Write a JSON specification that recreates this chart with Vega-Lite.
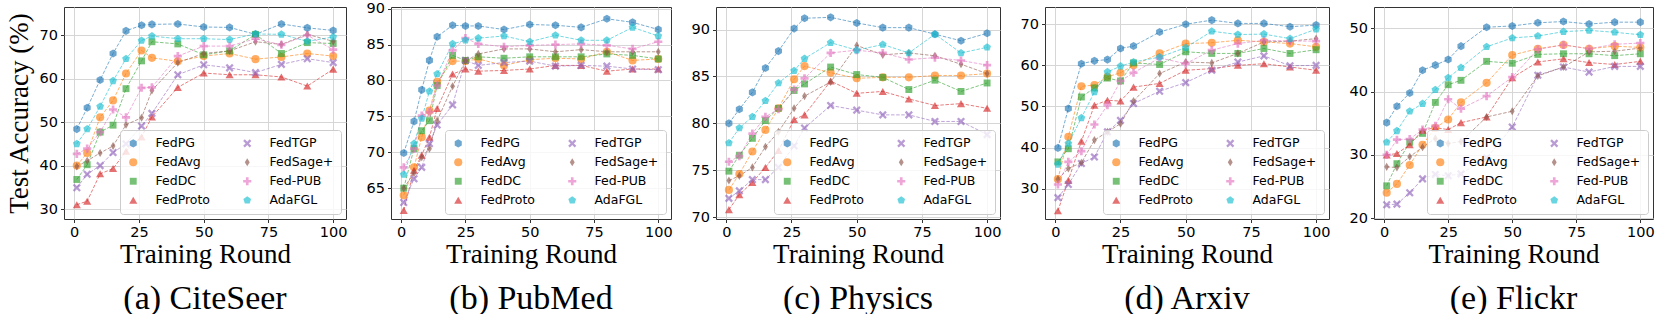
{
"$schema": "https://vega.github.io/schema/vega-lite/v6.json",
"padding": {"left": 4, "top": 0, "right": 0, "bottom": 0},
"background": "white",
"datasets": {
"citeseer": [
{"r":1,"m":"FedPG","v":48.4},{"r":5,"m":"FedPG","v":53.3},{"r":10,"m":"FedPG","v":59.7},{"r":15,"m":"FedPG","v":65.8},{"r":20,"m":"FedPG","v":71.0},{"r":26,"m":"FedPG","v":72.3},{"r":30,"m":"FedPG","v":72.5},{"r":40,"m":"FedPG","v":72.6},{"r":50,"m":"FedPG","v":71.9},{"r":60,"m":"FedPG","v":71.8},{"r":70,"m":"FedPG","v":70.2},{"r":80,"m":"FedPG","v":72.6},{"r":90,"m":"FedPG","v":71.7},{"r":100,"m":"FedPG","v":71.1},
{"r":1,"m":"FedAvg","v":40.0},{"r":5,"m":"FedAvg","v":42.9},{"r":10,"m":"FedAvg","v":51.1},{"r":15,"m":"FedAvg","v":55.0},{"r":20,"m":"FedAvg","v":61.2},{"r":26,"m":"FedAvg","v":66.5},{"r":30,"m":"FedAvg","v":64.8},{"r":40,"m":"FedAvg","v":64.0},{"r":50,"m":"FedAvg","v":65.2},{"r":60,"m":"FedAvg","v":65.8},{"r":70,"m":"FedAvg","v":64.5},{"r":80,"m":"FedAvg","v":65.0},{"r":90,"m":"FedAvg","v":65.8},{"r":100,"m":"FedAvg","v":65.2},
{"r":1,"m":"FedDC","v":36.8},{"r":5,"m":"FedDC","v":40.2},{"r":10,"m":"FedDC","v":47.7},{"r":15,"m":"FedDC","v":49.3},{"r":20,"m":"FedDC","v":57.7},{"r":26,"m":"FedDC","v":64.1},{"r":30,"m":"FedDC","v":68.5},{"r":40,"m":"FedDC","v":68.0},{"r":50,"m":"FedDC","v":65.5},{"r":60,"m":"FedDC","v":66.4},{"r":70,"m":"FedDC","v":70.2},{"r":80,"m":"FedDC","v":65.8},{"r":90,"m":"FedDC","v":68.3},{"r":100,"m":"FedDC","v":68.1},
{"r":1,"m":"FedProto","v":31.0},{"r":5,"m":"FedProto","v":31.8},{"r":10,"m":"FedProto","v":38.1},{"r":15,"m":"FedProto","v":39.3},{"r":20,"m":"FedProto","v":43.3},{"r":26,"m":"FedProto","v":46.6},{"r":30,"m":"FedProto","v":51.2},{"r":40,"m":"FedProto","v":58.0},{"r":50,"m":"FedProto","v":61.3},{"r":60,"m":"FedProto","v":60.9},{"r":70,"m":"FedProto","v":60.9},{"r":80,"m":"FedProto","v":60.4},{"r":90,"m":"FedProto","v":58.3},{"r":100,"m":"FedProto","v":62.2},
{"r":1,"m":"FedTGP","v":34.9},{"r":5,"m":"FedTGP","v":38.0},{"r":10,"m":"FedTGP","v":40.0},{"r":15,"m":"FedTGP","v":43.0},{"r":20,"m":"FedTGP","v":45.0},{"r":26,"m":"FedTGP","v":49.1},{"r":30,"m":"FedTGP","v":52.0},{"r":40,"m":"FedTGP","v":60.9},{"r":50,"m":"FedTGP","v":63.2},{"r":60,"m":"FedTGP","v":62.5},{"r":70,"m":"FedTGP","v":61.4},{"r":80,"m":"FedTGP","v":63.3},{"r":90,"m":"FedTGP","v":64.6},{"r":100,"m":"FedTGP","v":63.7},
{"r":1,"m":"FedSage+","v":39.8},{"r":5,"m":"FedSage+","v":41.1},{"r":10,"m":"FedSage+","v":42.9},{"r":15,"m":"FedSage+","v":44.5},{"r":20,"m":"FedSage+","v":49.4},{"r":26,"m":"FedSage+","v":51.0},{"r":30,"m":"FedSage+","v":57.3},{"r":40,"m":"FedSage+","v":63.7},{"r":50,"m":"FedSage+","v":65.8},{"r":60,"m":"FedSage+","v":66.4},{"r":70,"m":"FedSage+","v":68.5},{"r":80,"m":"FedSage+","v":67.9},{"r":90,"m":"FedSage+","v":70.2},{"r":100,"m":"FedSage+","v":68.6},
{"r":1,"m":"Fed-PUB","v":42.7},{"r":5,"m":"Fed-PUB","v":43.9},{"r":10,"m":"Fed-PUB","v":47.7},{"r":15,"m":"Fed-PUB","v":52.9},{"r":20,"m":"Fed-PUB","v":51.1},{"r":26,"m":"Fed-PUB","v":57.9},{"r":30,"m":"Fed-PUB","v":58.0},{"r":40,"m":"Fed-PUB","v":65.2},{"r":50,"m":"Fed-PUB","v":67.5},{"r":60,"m":"Fed-PUB","v":67.5},{"r":70,"m":"Fed-PUB","v":69.2},{"r":80,"m":"Fed-PUB","v":67.8},{"r":90,"m":"Fed-PUB","v":70.0},{"r":100,"m":"Fed-PUB","v":66.7},
{"r":1,"m":"AdaFGL","v":45.0},{"r":5,"m":"AdaFGL","v":48.4},{"r":10,"m":"AdaFGL","v":53.6},{"r":15,"m":"AdaFGL","v":59.5},{"r":20,"m":"AdaFGL","v":64.6},{"r":26,"m":"AdaFGL","v":68.8},{"r":30,"m":"AdaFGL","v":69.8},{"r":40,"m":"AdaFGL","v":69.2},{"r":50,"m":"AdaFGL","v":69.2},{"r":60,"m":"AdaFGL","v":69.0},{"r":70,"m":"AdaFGL","v":70.3},{"r":80,"m":"AdaFGL","v":70.2},{"r":90,"m":"AdaFGL","v":68.6},{"r":100,"m":"AdaFGL","v":69.6}
],
"pubmed": [
{"r":1,"m":"FedPG","v":69.9},{"r":5,"m":"FedPG","v":74.3},{"r":8,"m":"FedPG","v":78.7},{"r":11,"m":"FedPG","v":82.8},{"r":14,"m":"FedPG","v":86.1},{"r":20,"m":"FedPG","v":87.7},{"r":25,"m":"FedPG","v":87.6},{"r":30,"m":"FedPG","v":87.6},{"r":40,"m":"FedPG","v":87.1},{"r":50,"m":"FedPG","v":87.8},{"r":60,"m":"FedPG","v":87.7},{"r":70,"m":"FedPG","v":87.4},{"r":80,"m":"FedPG","v":88.6},{"r":90,"m":"FedPG","v":88.1},{"r":100,"m":"FedPG","v":87.1},
{"r":1,"m":"FedAvg","v":64.0},{"r":5,"m":"FedAvg","v":67.9},{"r":8,"m":"FedAvg","v":72.1},{"r":11,"m":"FedAvg","v":75.8},{"r":14,"m":"FedAvg","v":79.8},{"r":20,"m":"FedAvg","v":82.7},{"r":25,"m":"FedAvg","v":82.7},{"r":30,"m":"FedAvg","v":83.0},{"r":40,"m":"FedAvg","v":82.1},{"r":50,"m":"FedAvg","v":82.9},{"r":60,"m":"FedAvg","v":83.1},{"r":70,"m":"FedAvg","v":83.0},{"r":80,"m":"FedAvg","v":84.0},{"r":90,"m":"FedAvg","v":82.8},{"r":100,"m":"FedAvg","v":83.0},
{"r":1,"m":"FedDC","v":65.0},{"r":5,"m":"FedDC","v":70.5},{"r":8,"m":"FedDC","v":73.0},{"r":11,"m":"FedDC","v":74.4},{"r":14,"m":"FedDC","v":79.3},{"r":20,"m":"FedDC","v":83.5},{"r":25,"m":"FedDC","v":82.8},{"r":30,"m":"FedDC","v":83.3},{"r":40,"m":"FedDC","v":83.1},{"r":50,"m":"FedDC","v":83.3},{"r":60,"m":"FedDC","v":83.3},{"r":70,"m":"FedDC","v":83.3},{"r":80,"m":"FedDC","v":83.7},{"r":90,"m":"FedDC","v":83.5},{"r":100,"m":"FedDC","v":83.0},
{"r":1,"m":"FedProto","v":61.9},{"r":5,"m":"FedProto","v":67.5},{"r":8,"m":"FedProto","v":69.6},{"r":11,"m":"FedProto","v":72.1},{"r":14,"m":"FedProto","v":76.1},{"r":20,"m":"FedProto","v":80.9},{"r":25,"m":"FedProto","v":81.6},{"r":30,"m":"FedProto","v":81.3},{"r":40,"m":"FedProto","v":81.4},{"r":50,"m":"FedProto","v":81.6},{"r":60,"m":"FedProto","v":82.1},{"r":70,"m":"FedProto","v":82.1},{"r":80,"m":"FedProto","v":81.3},{"r":90,"m":"FedProto","v":81.6},{"r":100,"m":"FedProto","v":81.6},
{"r":1,"m":"FedTGP","v":63.0},{"r":5,"m":"FedTGP","v":66.3},{"r":8,"m":"FedTGP","v":67.9},{"r":11,"m":"FedTGP","v":71.2},{"r":14,"m":"FedTGP","v":73.8},{"r":20,"m":"FedTGP","v":76.6},{"r":25,"m":"FedTGP","v":82.8},{"r":30,"m":"FedTGP","v":82.1},{"r":40,"m":"FedTGP","v":82.5},{"r":50,"m":"FedTGP","v":82.7},{"r":60,"m":"FedTGP","v":82.0},{"r":70,"m":"FedTGP","v":82.1},{"r":80,"m":"FedTGP","v":82.0},{"r":90,"m":"FedTGP","v":81.6},{"r":100,"m":"FedTGP","v":81.5},
{"r":1,"m":"FedSage+","v":65.0},{"r":5,"m":"FedSage+","v":67.1},{"r":8,"m":"FedSage+","v":69.3},{"r":11,"m":"FedSage+","v":70.5},{"r":14,"m":"FedSage+","v":74.4},{"r":20,"m":"FedSage+","v":79.2},{"r":25,"m":"FedSage+","v":82.7},{"r":30,"m":"FedSage+","v":83.7},{"r":40,"m":"FedSage+","v":84.4},{"r":50,"m":"FedSage+","v":84.4},{"r":60,"m":"FedSage+","v":84.0},{"r":70,"m":"FedSage+","v":84.3},{"r":80,"m":"FedSage+","v":84.0},{"r":90,"m":"FedSage+","v":84.0},{"r":100,"m":"FedSage+","v":84.0},
{"r":1,"m":"Fed-PUB","v":67.9},{"r":5,"m":"Fed-PUB","v":70.5},{"r":8,"m":"Fed-PUB","v":75.1},{"r":11,"m":"Fed-PUB","v":75.6},{"r":14,"m":"Fed-PUB","v":79.3},{"r":20,"m":"Fed-PUB","v":84.2},{"r":25,"m":"Fed-PUB","v":85.9},{"r":30,"m":"Fed-PUB","v":85.1},{"r":40,"m":"Fed-PUB","v":84.7},{"r":50,"m":"Fed-PUB","v":84.9},{"r":60,"m":"Fed-PUB","v":85.0},{"r":70,"m":"Fed-PUB","v":85.1},{"r":80,"m":"Fed-PUB","v":84.9},{"r":90,"m":"Fed-PUB","v":84.4},{"r":100,"m":"Fed-PUB","v":85.4},
{"r":1,"m":"AdaFGL","v":66.9},{"r":5,"m":"AdaFGL","v":71.2},{"r":8,"m":"AdaFGL","v":74.7},{"r":11,"m":"AdaFGL","v":78.5},{"r":14,"m":"AdaFGL","v":80.9},{"r":20,"m":"AdaFGL","v":85.1},{"r":25,"m":"AdaFGL","v":85.6},{"r":30,"m":"AdaFGL","v":85.9},{"r":40,"m":"AdaFGL","v":86.2},{"r":50,"m":"AdaFGL","v":85.4},{"r":60,"m":"AdaFGL","v":86.3},{"r":70,"m":"AdaFGL","v":85.6},{"r":80,"m":"AdaFGL","v":85.6},{"r":90,"m":"AdaFGL","v":87.4},{"r":100,"m":"AdaFGL","v":86.2}
],
"physics": [
{"r":1,"m":"FedPG","v":80.0},{"r":5,"m":"FedPG","v":81.5},{"r":10,"m":"FedPG","v":83.3},{"r":15,"m":"FedPG","v":85.9},{"r":20,"m":"FedPG","v":87.7},{"r":26,"m":"FedPG","v":90.1},{"r":30,"m":"FedPG","v":91.2},{"r":40,"m":"FedPG","v":91.3},{"r":50,"m":"FedPG","v":90.7},{"r":60,"m":"FedPG","v":90.2},{"r":70,"m":"FedPG","v":90.2},{"r":80,"m":"FedPG","v":89.5},{"r":90,"m":"FedPG","v":88.8},{"r":100,"m":"FedPG","v":89.6},
{"r":1,"m":"FedAvg","v":72.9},{"r":5,"m":"FedAvg","v":74.6},{"r":10,"m":"FedAvg","v":77.0},{"r":15,"m":"FedAvg","v":79.3},{"r":20,"m":"FedAvg","v":81.6},{"r":26,"m":"FedAvg","v":84.7},{"r":30,"m":"FedAvg","v":86.1},{"r":40,"m":"FedAvg","v":85.4},{"r":50,"m":"FedAvg","v":84.8},{"r":60,"m":"FedAvg","v":84.9},{"r":70,"m":"FedAvg","v":84.9},{"r":80,"m":"FedAvg","v":85.1},{"r":90,"m":"FedAvg","v":85.1},{"r":100,"m":"FedAvg","v":85.3},
{"r":1,"m":"FedDC","v":74.9},{"r":5,"m":"FedDC","v":76.6},{"r":10,"m":"FedDC","v":78.4},{"r":15,"m":"FedDC","v":80.3},{"r":20,"m":"FedDC","v":81.6},{"r":26,"m":"FedDC","v":83.5},{"r":30,"m":"FedDC","v":84.2},{"r":40,"m":"FedDC","v":86.0},{"r":50,"m":"FedDC","v":85.2},{"r":60,"m":"FedDC","v":84.9},{"r":70,"m":"FedDC","v":83.6},{"r":80,"m":"FedDC","v":84.6},{"r":90,"m":"FedDC","v":83.4},{"r":100,"m":"FedDC","v":84.3},
{"r":1,"m":"FedProto","v":70.8},{"r":5,"m":"FedProto","v":72.4},{"r":10,"m":"FedProto","v":73.7},{"r":15,"m":"FedProto","v":75.3},{"r":20,"m":"FedProto","v":77.1},{"r":26,"m":"FedProto","v":80.4},{"r":30,"m":"FedProto","v":80.9},{"r":40,"m":"FedProto","v":84.5},{"r":50,"m":"FedProto","v":83.2},{"r":60,"m":"FedProto","v":83.4},{"r":70,"m":"FedProto","v":82.6},{"r":80,"m":"FedProto","v":81.9},{"r":90,"m":"FedProto","v":82.1},{"r":100,"m":"FedProto","v":81.6},
{"r":1,"m":"FedTGP","v":72.0},{"r":5,"m":"FedTGP","v":72.8},{"r":10,"m":"FedTGP","v":74.0},{"r":15,"m":"FedTGP","v":74.0},{"r":20,"m":"FedTGP","v":75.3},{"r":26,"m":"FedTGP","v":77.6},{"r":30,"m":"FedTGP","v":79.5},{"r":40,"m":"FedTGP","v":81.9},{"r":50,"m":"FedTGP","v":81.4},{"r":60,"m":"FedTGP","v":80.9},{"r":70,"m":"FedTGP","v":80.9},{"r":80,"m":"FedTGP","v":80.2},{"r":90,"m":"FedTGP","v":80.2},{"r":100,"m":"FedTGP","v":78.8},
{"r":1,"m":"FedSage+","v":73.9},{"r":5,"m":"FedSage+","v":74.4},{"r":10,"m":"FedSage+","v":75.3},{"r":15,"m":"FedSage+","v":77.5},{"r":20,"m":"FedSage+","v":79.1},{"r":26,"m":"FedSage+","v":81.6},{"r":30,"m":"FedSage+","v":82.9},{"r":40,"m":"FedSage+","v":84.4},{"r":50,"m":"FedSage+","v":88.3},{"r":60,"m":"FedSage+","v":87.3},{"r":70,"m":"FedSage+","v":87.5},{"r":80,"m":"FedSage+","v":87.2},{"r":90,"m":"FedSage+","v":86.3},{"r":100,"m":"FedSage+","v":85.3},
{"r":1,"m":"Fed-PUB","v":75.9},{"r":5,"m":"Fed-PUB","v":76.5},{"r":10,"m":"Fed-PUB","v":78.9},{"r":15,"m":"Fed-PUB","v":80.7},{"r":20,"m":"Fed-PUB","v":81.5},{"r":26,"m":"Fed-PUB","v":83.6},{"r":30,"m":"Fed-PUB","v":84.8},{"r":40,"m":"Fed-PUB","v":87.5},{"r":50,"m":"Fed-PUB","v":87.8},{"r":60,"m":"Fed-PUB","v":87.5},{"r":70,"m":"Fed-PUB","v":86.8},{"r":80,"m":"Fed-PUB","v":87.0},{"r":90,"m":"Fed-PUB","v":86.7},{"r":100,"m":"Fed-PUB","v":86.2},
{"r":1,"m":"AdaFGL","v":77.9},{"r":5,"m":"AdaFGL","v":79.5},{"r":10,"m":"AdaFGL","v":80.7},{"r":15,"m":"AdaFGL","v":82.4},{"r":20,"m":"AdaFGL","v":84.3},{"r":26,"m":"AdaFGL","v":85.6},{"r":30,"m":"AdaFGL","v":86.9},{"r":40,"m":"AdaFGL","v":88.6},{"r":50,"m":"AdaFGL","v":87.8},{"r":60,"m":"AdaFGL","v":88.4},{"r":70,"m":"AdaFGL","v":87.5},{"r":80,"m":"AdaFGL","v":89.5},{"r":90,"m":"AdaFGL","v":87.5},{"r":100,"m":"AdaFGL","v":88.1}
],
"arxiv": [
{"r":1,"m":"FedPG","v":39.9},{"r":5,"m":"FedPG","v":49.5},{"r":10,"m":"FedPG","v":60.4},{"r":15,"m":"FedPG","v":61.1},{"r":20,"m":"FedPG","v":61.4},{"r":25,"m":"FedPG","v":64.1},{"r":30,"m":"FedPG","v":64.7},{"r":40,"m":"FedPG","v":68.1},{"r":50,"m":"FedPG","v":70.0},{"r":60,"m":"FedPG","v":71.0},{"r":70,"m":"FedPG","v":70.2},{"r":80,"m":"FedPG","v":70.2},{"r":90,"m":"FedPG","v":69.4},{"r":100,"m":"FedPG","v":69.8},
{"r":1,"m":"FedAvg","v":32.3},{"r":5,"m":"FedAvg","v":42.6},{"r":10,"m":"FedAvg","v":54.9},{"r":15,"m":"FedAvg","v":55.2},{"r":20,"m":"FedAvg","v":57.2},{"r":25,"m":"FedAvg","v":58.2},{"r":30,"m":"FedAvg","v":60.0},{"r":40,"m":"FedAvg","v":62.9},{"r":50,"m":"FedAvg","v":65.3},{"r":60,"m":"FedAvg","v":65.5},{"r":70,"m":"FedAvg","v":66.1},{"r":80,"m":"FedAvg","v":65.7},{"r":90,"m":"FedAvg","v":65.3},{"r":100,"m":"FedAvg","v":64.5},
{"r":1,"m":"FedDC","v":36.5},{"r":5,"m":"FedDC","v":39.7},{"r":10,"m":"FedDC","v":52.3},{"r":15,"m":"FedDC","v":54.5},{"r":20,"m":"FedDC","v":56.9},{"r":25,"m":"FedDC","v":56.2},{"r":30,"m":"FedDC","v":60.6},{"r":40,"m":"FedDC","v":60.2},{"r":50,"m":"FedDC","v":63.3},{"r":60,"m":"FedDC","v":62.9},{"r":70,"m":"FedDC","v":62.9},{"r":80,"m":"FedDC","v":64.1},{"r":90,"m":"FedDC","v":62.9},{"r":100,"m":"FedDC","v":63.8},
{"r":1,"m":"FedProto","v":24.6},{"r":5,"m":"FedProto","v":32.0},{"r":10,"m":"FedProto","v":41.5},{"r":15,"m":"FedProto","v":50.3},{"r":20,"m":"FedProto","v":51.5},{"r":25,"m":"FedProto","v":51.3},{"r":30,"m":"FedProto","v":54.7},{"r":40,"m":"FedProto","v":55.6},{"r":50,"m":"FedProto","v":58.8},{"r":60,"m":"FedProto","v":59.2},{"r":70,"m":"FedProto","v":60.0},{"r":80,"m":"FedProto","v":60.4},{"r":90,"m":"FedProto","v":59.6},{"r":100,"m":"FedProto","v":58.8},
{"r":1,"m":"FedTGP","v":27.8},{"r":5,"m":"FedTGP","v":31.0},{"r":10,"m":"FedTGP","v":36.1},{"r":15,"m":"FedTGP","v":37.7},{"r":20,"m":"FedTGP","v":43.8},{"r":25,"m":"FedTGP","v":46.6},{"r":30,"m":"FedTGP","v":50.7},{"r":40,"m":"FedTGP","v":53.7},{"r":50,"m":"FedTGP","v":55.8},{"r":60,"m":"FedTGP","v":58.8},{"r":70,"m":"FedTGP","v":60.8},{"r":80,"m":"FedTGP","v":62.3},{"r":90,"m":"FedTGP","v":59.9},{"r":100,"m":"FedTGP","v":60.0},
{"r":1,"m":"FedSage+","v":32.3},{"r":5,"m":"FedSage+","v":34.9},{"r":10,"m":"FedSage+","v":36.3},{"r":15,"m":"FedSage+","v":41.8},{"r":20,"m":"FedSage+","v":43.8},{"r":25,"m":"FedSage+","v":45.8},{"r":30,"m":"FedSage+","v":51.3},{"r":40,"m":"FedSage+","v":58.0},{"r":50,"m":"FedSage+","v":60.8},{"r":60,"m":"FedSage+","v":60.6},{"r":70,"m":"FedSage+","v":62.9},{"r":80,"m":"FedSage+","v":65.7},{"r":90,"m":"FedSage+","v":65.9},{"r":100,"m":"FedSage+","v":66.5},
{"r":1,"m":"Fed-PUB","v":31.0},{"r":5,"m":"Fed-PUB","v":36.5},{"r":10,"m":"Fed-PUB","v":39.1},{"r":15,"m":"Fed-PUB","v":45.6},{"r":20,"m":"Fed-PUB","v":50.3},{"r":25,"m":"Fed-PUB","v":56.2},{"r":30,"m":"Fed-PUB","v":58.2},{"r":40,"m":"Fed-PUB","v":61.8},{"r":50,"m":"Fed-PUB","v":60.4},{"r":60,"m":"Fed-PUB","v":63.7},{"r":70,"m":"Fed-PUB","v":65.3},{"r":80,"m":"Fed-PUB","v":66.1},{"r":90,"m":"Fed-PUB","v":65.9},{"r":100,"m":"Fed-PUB","v":65.9},
{"r":1,"m":"AdaFGL","v":35.9},{"r":5,"m":"AdaFGL","v":41.0},{"r":10,"m":"AdaFGL","v":47.2},{"r":15,"m":"AdaFGL","v":53.5},{"r":20,"m":"AdaFGL","v":58.4},{"r":25,"m":"AdaFGL","v":59.8},{"r":30,"m":"AdaFGL","v":60.8},{"r":40,"m":"AdaFGL","v":62.0},{"r":50,"m":"AdaFGL","v":64.3},{"r":60,"m":"AdaFGL","v":68.3},{"r":70,"m":"AdaFGL","v":67.5},{"r":80,"m":"AdaFGL","v":67.6},{"r":90,"m":"AdaFGL","v":66.5},{"r":100,"m":"AdaFGL","v":68.8}
],
"flickr": [
{"r":1,"m":"FedPG","v":35.1},{"r":5,"m":"FedPG","v":37.7},{"r":10,"m":"FedPG","v":39.8},{"r":15,"m":"FedPG","v":43.4},{"r":20,"m":"FedPG","v":44.2},{"r":25,"m":"FedPG","v":45.1},{"r":30,"m":"FedPG","v":47.2},{"r":40,"m":"FedPG","v":50.2},{"r":50,"m":"FedPG","v":50.4},{"r":60,"m":"FedPG","v":50.9},{"r":70,"m":"FedPG","v":51.1},{"r":80,"m":"FedPG","v":50.7},{"r":90,"m":"FedPG","v":51.0},{"r":100,"m":"FedPG","v":51.0},
{"r":1,"m":"FedAvg","v":24.0},{"r":5,"m":"FedAvg","v":25.4},{"r":10,"m":"FedAvg","v":28.4},{"r":15,"m":"FedAvg","v":31.6},{"r":20,"m":"FedAvg","v":34.3},{"r":25,"m":"FedAvg","v":35.6},{"r":30,"m":"FedAvg","v":38.3},{"r":40,"m":"FedAvg","v":41.4},{"r":50,"m":"FedAvg","v":45.8},{"r":60,"m":"FedAvg","v":46.8},{"r":70,"m":"FedAvg","v":47.4},{"r":80,"m":"FedAvg","v":46.8},{"r":90,"m":"FedAvg","v":47.2},{"r":100,"m":"FedAvg","v":47.0},
{"r":1,"m":"FedDC","v":25.1},{"r":5,"m":"FedDC","v":28.6},{"r":10,"m":"FedDC","v":32.0},{"r":15,"m":"FedDC","v":33.4},{"r":20,"m":"FedDC","v":38.3},{"r":25,"m":"FedDC","v":41.1},{"r":30,"m":"FedDC","v":41.8},{"r":40,"m":"FedDC","v":44.8},{"r":50,"m":"FedDC","v":44.5},{"r":60,"m":"FedDC","v":45.9},{"r":70,"m":"FedDC","v":46.0},{"r":80,"m":"FedDC","v":46.0},{"r":90,"m":"FedDC","v":45.7},{"r":100,"m":"FedDC","v":46.0},
{"r":1,"m":"FedProto","v":30.0},{"r":5,"m":"FedProto","v":30.2},{"r":10,"m":"FedProto","v":31.6},{"r":15,"m":"FedProto","v":33.9},{"r":20,"m":"FedProto","v":34.3},{"r":25,"m":"FedProto","v":34.0},{"r":30,"m":"FedProto","v":35.1},{"r":40,"m":"FedProto","v":36.0},{"r":50,"m":"FedProto","v":42.2},{"r":60,"m":"FedProto","v":44.7},{"r":70,"m":"FedProto","v":45.2},{"r":80,"m":"FedProto","v":44.6},{"r":90,"m":"FedProto","v":44.3},{"r":100,"m":"FedProto","v":44.8},
{"r":1,"m":"FedTGP","v":22.1},{"r":5,"m":"FedTGP","v":22.2},{"r":10,"m":"FedTGP","v":24.0},{"r":15,"m":"FedTGP","v":26.2},{"r":20,"m":"FedTGP","v":26.9},{"r":25,"m":"FedTGP","v":26.7},{"r":30,"m":"FedTGP","v":27.0},{"r":40,"m":"FedTGP","v":29.5},{"r":50,"m":"FedTGP","v":34.4},{"r":60,"m":"FedTGP","v":42.6},{"r":70,"m":"FedTGP","v":43.9},{"r":80,"m":"FedTGP","v":43.1},{"r":90,"m":"FedTGP","v":44.0},{"r":100,"m":"FedTGP","v":44.0},
{"r":1,"m":"FedSage+","v":28.1},{"r":5,"m":"FedSage+","v":28.0},{"r":10,"m":"FedSage+","v":29.7},{"r":15,"m":"FedSage+","v":31.2},{"r":20,"m":"FedSage+","v":32.6},{"r":25,"m":"FedSage+","v":31.8},{"r":30,"m":"FedSage+","v":32.1},{"r":40,"m":"FedSage+","v":36.0},{"r":50,"m":"FedSage+","v":36.9},{"r":60,"m":"FedSage+","v":42.5},{"r":70,"m":"FedSage+","v":43.9},{"r":80,"m":"FedSage+","v":46.3},{"r":90,"m":"FedSage+","v":46.4},{"r":100,"m":"FedSage+","v":46.9},
{"r":1,"m":"Fed-PUB","v":30.0},{"r":5,"m":"Fed-PUB","v":32.4},{"r":10,"m":"Fed-PUB","v":32.5},{"r":15,"m":"Fed-PUB","v":34.0},{"r":20,"m":"Fed-PUB","v":34.6},{"r":25,"m":"Fed-PUB","v":38.8},{"r":30,"m":"Fed-PUB","v":37.3},{"r":40,"m":"Fed-PUB","v":39.3},{"r":50,"m":"Fed-PUB","v":42.3},{"r":60,"m":"Fed-PUB","v":46.7},{"r":70,"m":"Fed-PUB","v":47.4},{"r":80,"m":"Fed-PUB","v":46.8},{"r":90,"m":"Fed-PUB","v":47.5},{"r":100,"m":"Fed-PUB","v":47.7},
{"r":1,"m":"AdaFGL","v":32.0},{"r":5,"m":"AdaFGL","v":33.8},{"r":10,"m":"AdaFGL","v":36.9},{"r":15,"m":"AdaFGL","v":38.1},{"r":20,"m":"AdaFGL","v":40.3},{"r":25,"m":"AdaFGL","v":42.2},{"r":30,"m":"AdaFGL","v":43.8},{"r":40,"m":"AdaFGL","v":47.1},{"r":50,"m":"AdaFGL","v":48.5},{"r":60,"m":"AdaFGL","v":48.8},{"r":70,"m":"AdaFGL","v":49.5},{"r":80,"m":"AdaFGL","v":49.7},{"r":90,"m":"AdaFGL","v":49.4},{"r":100,"m":"AdaFGL","v":49.0}
]
},
"spacing": 17,
"resolve": {"scale": {"color": "independent", "shape": "independent", "y": "independent"}, "legend": {"color": "independent", "shape": "independent"}},
"hconcat": [
{
"width": 282, "height": 212,
"data": {"name": "citeseer"},
"title": {"text": "(a) CiteSeer"},
"encoding": {
"x": {"field": "r", "type": "quantitative", "scale": {"domain": [-3.95, 104.95], "nice": false, "zero": false}, "axis": {"values": [0, 25, 50, 75, 100], "title": "Training Round"}},
"y": {"field": "v", "type": "quantitative", "scale": {"domain": [27.7, 76.5], "nice": false, "zero": false}, "axis": {"values": [30, 40, 50, 60, 70], "title": "Test Accuracy (%)"}},
"color": {"field": "m", "type": "nominal", "title": null, "scale": {"domain": ["FedPG","FedAvg","FedDC","FedProto","FedTGP","FedSage+","Fed-PUB","AdaFGL"], "range": ["#1f77b4","#ff7f0e","#2ca02c","#d62728","#9467bd","#8c564b","#e377c2","#17becf"]}}
},
"layer": [
{"mark": {"type": "line", "strokeDash": [3.5, 1.6], "strokeWidth": 1, "opacity": 0.6}},
{"mark": {"type": "point", "filled": true, "size": 66, "opacity": 0.65, "strokeWidth": 0}, "encoding": {"shape": {"field": "m", "type": "nominal", "title": null, "scale": {"domain": ["FedPG","FedAvg","FedDC","FedProto","FedTGP","FedSage+","Fed-PUB","AdaFGL"], "range": ["M0,-1L0.866,-0.5L0.866,0.5L0,1L-0.866,0.5L-0.866,-0.5Z","circle","M-0.85,-0.85L0.85,-0.85L0.85,0.85L-0.85,0.85Z","triangle-up","M-1,-0.6L-0.6,-1L0,-0.4L0.6,-1L1,-0.6L0.4,0L1,0.6L0.6,1L0,0.4L-0.6,1L-1,0.6L-0.4,0Z","M0,-1L0.6,0L0,1L-0.6,0Z","M-0.33,-1L0.33,-1L0.33,-0.33L1,-0.33L1,0.33L0.33,0.33L0.33,1L-0.33,1L-0.33,0.33L-1,0.33L-1,-0.33L-0.33,-0.33Z","M0,-1L0.951,-0.309L0.588,0.809L-0.588,0.809L-0.951,-0.309Z"]}}}}
]
},
{
"width": 280, "height": 212,
"data": {"name": "pubmed"},
"title": {"text": "(b) PubMed"},
"encoding": {
"x": {"field": "r", "type": "quantitative", "scale": {"domain": [-3.95, 104.95], "nice": false, "zero": false}, "axis": {"values": [0, 25, 50, 75, 100], "title": "Training Round"}},
"y": {"field": "v", "type": "quantitative", "scale": {"domain": [60.7, 90.24], "nice": false, "zero": false}, "axis": {"values": [65, 70, 75, 80, 85, 90], "title": null}},
"color": {"field": "m", "type": "nominal", "title": null, "scale": {"domain": ["FedPG","FedAvg","FedDC","FedProto","FedTGP","FedSage+","Fed-PUB","AdaFGL"], "range": ["#1f77b4","#ff7f0e","#2ca02c","#d62728","#9467bd","#8c564b","#e377c2","#17becf"]}}
},
"layer": [
{"mark": {"type": "line", "strokeDash": [3.5, 1.6], "strokeWidth": 1, "opacity": 0.6}},
{"mark": {"type": "point", "filled": true, "size": 66, "opacity": 0.65, "strokeWidth": 0}, "encoding": {"shape": {"field": "m", "type": "nominal", "title": null, "scale": {"domain": ["FedPG","FedAvg","FedDC","FedProto","FedTGP","FedSage+","Fed-PUB","AdaFGL"], "range": ["M0,-1L0.866,-0.5L0.866,0.5L0,1L-0.866,0.5L-0.866,-0.5Z","circle","M-0.85,-0.85L0.85,-0.85L0.85,0.85L-0.85,0.85Z","triangle-up","M-1,-0.6L-0.6,-1L0,-0.4L0.6,-1L1,-0.6L0.4,0L1,0.6L0.6,1L0,0.4L-0.6,1L-1,0.6L-0.4,0Z","M0,-1L0.6,0L0,1L-0.6,0Z","M-0.33,-1L0.33,-1L0.33,-0.33L1,-0.33L1,0.33L0.33,0.33L0.33,1L-0.33,1L-0.33,0.33L-1,0.33L-1,-0.33L-0.33,-0.33Z","M0,-1L0.951,-0.309L0.588,0.809L-0.588,0.809L-0.951,-0.309Z"]}}}}
]
},
{
"width": 284, "height": 212,
"data": {"name": "physics"},
"title": {"text": "(c) Physics"},
"encoding": {
"x": {"field": "r", "type": "quantitative", "scale": {"domain": [-3.95, 104.95], "nice": false, "zero": false}, "axis": {"values": [0, 25, 50, 75, 100], "title": "Training Round"}},
"y": {"field": "v", "type": "quantitative", "scale": {"domain": [69.8, 92.4], "nice": false, "zero": false}, "axis": {"values": [70, 75, 80, 85, 90], "title": null}},
"color": {"field": "m", "type": "nominal", "title": null, "scale": {"domain": ["FedPG","FedAvg","FedDC","FedProto","FedTGP","FedSage+","Fed-PUB","AdaFGL"], "range": ["#1f77b4","#ff7f0e","#2ca02c","#d62728","#9467bd","#8c564b","#e377c2","#17becf"]}}
},
"layer": [
{"mark": {"type": "line", "strokeDash": [3.5, 1.6], "strokeWidth": 1, "opacity": 0.6}},
{"mark": {"type": "point", "filled": true, "size": 66, "opacity": 0.65, "strokeWidth": 0}, "encoding": {"shape": {"field": "m", "type": "nominal", "title": null, "scale": {"domain": ["FedPG","FedAvg","FedDC","FedProto","FedTGP","FedSage+","Fed-PUB","AdaFGL"], "range": ["M0,-1L0.866,-0.5L0.866,0.5L0,1L-0.866,0.5L-0.866,-0.5Z","circle","M-0.85,-0.85L0.85,-0.85L0.85,0.85L-0.85,0.85Z","triangle-up","M-1,-0.6L-0.6,-1L0,-0.4L0.6,-1L1,-0.6L0.4,0L1,0.6L0.6,1L0,0.4L-0.6,1L-1,0.6L-0.4,0Z","M0,-1L0.6,0L0,1L-0.6,0Z","M-0.33,-1L0.33,-1L0.33,-0.33L1,-0.33L1,0.33L0.33,0.33L0.33,1L-0.33,1L-0.33,0.33L-1,0.33L-1,-0.33L-0.33,-0.33Z","M0,-1L0.951,-0.309L0.588,0.809L-0.588,0.809L-0.951,-0.309Z"]}}}}
]
},
{
"width": 284, "height": 212,
"data": {"name": "arxiv"},
"title": {"text": "(d) Arxiv"},
"encoding": {
"x": {"field": "r", "type": "quantitative", "scale": {"domain": [-3.95, 104.95], "nice": false, "zero": false}, "axis": {"values": [0, 25, 50, 75, 100], "title": "Training Round"}},
"y": {"field": "v", "type": "quantitative", "scale": {"domain": [22.6, 74.2], "nice": false, "zero": false}, "axis": {"values": [30, 40, 50, 60, 70], "title": null}},
"color": {"field": "m", "type": "nominal", "title": null, "scale": {"domain": ["FedPG","FedAvg","FedDC","FedProto","FedTGP","FedSage+","Fed-PUB","AdaFGL"], "range": ["#1f77b4","#ff7f0e","#2ca02c","#d62728","#9467bd","#8c564b","#e377c2","#17becf"]}}
},
"layer": [
{"mark": {"type": "line", "strokeDash": [3.5, 1.6], "strokeWidth": 1, "opacity": 0.6}},
{"mark": {"type": "point", "filled": true, "size": 66, "opacity": 0.65, "strokeWidth": 0}, "encoding": {"shape": {"field": "m", "type": "nominal", "title": null, "scale": {"domain": ["FedPG","FedAvg","FedDC","FedProto","FedTGP","FedSage+","Fed-PUB","AdaFGL"], "range": ["M0,-1L0.866,-0.5L0.866,0.5L0,1L-0.866,0.5L-0.866,-0.5Z","circle","M-0.85,-0.85L0.85,-0.85L0.85,0.85L-0.85,0.85Z","triangle-up","M-1,-0.6L-0.6,-1L0,-0.4L0.6,-1L1,-0.6L0.4,0L1,0.6L0.6,1L0,0.4L-0.6,1L-1,0.6L-0.4,0Z","M0,-1L0.6,0L0,1L-0.6,0Z","M-0.33,-1L0.33,-1L0.33,-0.33L1,-0.33L1,0.33L0.33,0.33L0.33,1L-0.33,1L-0.33,0.33L-1,0.33L-1,-0.33L-0.33,-0.33Z","M0,-1L0.951,-0.309L0.588,0.809L-0.588,0.809L-0.951,-0.309Z"]}}}}
]
},
{
"width": 279, "height": 212,
"data": {"name": "flickr"},
"title": {"text": "(e) Flickr"},
"encoding": {
"x": {"field": "r", "type": "quantitative", "scale": {"domain": [-3.95, 104.95], "nice": false, "zero": false}, "axis": {"values": [0, 25, 50, 75, 100], "title": "Training Round"}},
"y": {"field": "v", "type": "quantitative", "scale": {"domain": [19.85, 53.4], "nice": false, "zero": false}, "axis": {"values": [20, 30, 40, 50], "title": null}},
"color": {"field": "m", "type": "nominal", "title": null, "scale": {"domain": ["FedPG","FedAvg","FedDC","FedProto","FedTGP","FedSage+","Fed-PUB","AdaFGL"], "range": ["#1f77b4","#ff7f0e","#2ca02c","#d62728","#9467bd","#8c564b","#e377c2","#17becf"]}}
},
"layer": [
{"mark": {"type": "line", "strokeDash": [3.5, 1.6], "strokeWidth": 1, "opacity": 0.6}},
{"mark": {"type": "point", "filled": true, "size": 66, "opacity": 0.65, "strokeWidth": 0}, "encoding": {"shape": {"field": "m", "type": "nominal", "title": null, "scale": {"domain": ["FedPG","FedAvg","FedDC","FedProto","FedTGP","FedSage+","Fed-PUB","AdaFGL"], "range": ["M0,-1L0.866,-0.5L0.866,0.5L0,1L-0.866,0.5L-0.866,-0.5Z","circle","M-0.85,-0.85L0.85,-0.85L0.85,0.85L-0.85,0.85Z","triangle-up","M-1,-0.6L-0.6,-1L0,-0.4L0.6,-1L1,-0.6L0.4,0L1,0.6L0.6,1L0,0.4L-0.6,1L-1,0.6L-0.4,0Z","M0,-1L0.6,0L0,1L-0.6,0Z","M-0.33,-1L0.33,-1L0.33,-0.33L1,-0.33L1,0.33L0.33,0.33L0.33,1L-0.33,1L-0.33,0.33L-1,0.33L-1,-0.33L-0.33,-0.33Z","M0,-1L0.951,-0.309L0.588,0.809L-0.588,0.809L-0.951,-0.309Z"]}}}}
]
}
],
"config": {
"view": {"stroke": "#333333", "strokeWidth": 1},
"axis": {"labelFont": "DejaVu Sans", "labelFontSize": 14.5, "labelColor": "#000000", "tickColor": "#333333", "tickSize": 3.5, "domain": false, "gridColor": "#d6d6d6", "gridWidth": 1, "titleFont": "Liberation Serif", "titleFontSize": 27, "titleFontWeight": "normal", "titleColor": "#000000", "labelPadding": 3},
"axisX": {"labelAngle": 0, "titlePadding": 2},
"axisY": {"titlePadding": 6},
"title": {"orient": "bottom", "font": "Liberation Serif", "fontSize": 34, "fontWeight": "normal", "color": "#000000", "offset": 15},
"legend": {"orient": "bottom-right", "offset": 5, "columns": 2, "fillColor": "rgba(255,255,255,0.8)", "strokeColor": "#cccccc", "cornerRadius": 3, "padding": 7, "labelFont": "DejaVu Sans", "labelFontSize": 12.5, "labelColor": "#000000", "symbolSize": 66, "symbolOpacity": 0.65, "symbolStrokeWidth": 0, "rowPadding": 6, "columnPadding": 30, "labelOffset": 16}
}
}
